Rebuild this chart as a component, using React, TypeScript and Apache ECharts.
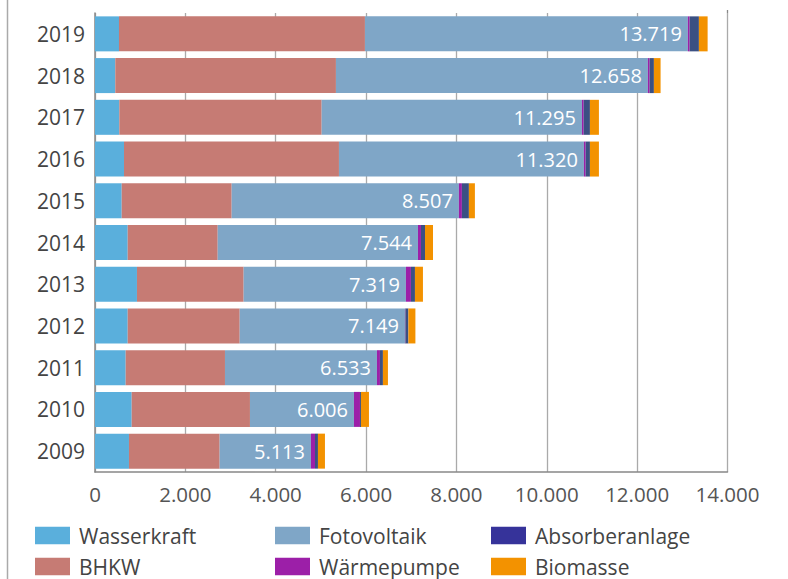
import React, { useEffect, useRef } from "react";
import * as echarts from "echarts";

const years = ["2009", "2010", "2011", "2012", "2013", "2014", "2015", "2016", "2017", "2018", "2019"];
const wasserkraft = [752, 812, 679, 724, 929, 724, 591, 642, 538, 449, 531];
const bhkw = [2007, 2618, 2198, 2479, 2361, 1992, 2434, 4758, 4479, 4884, 5444];
const fotovoltaik = [2021, 2302, 3364, 3658, 3592, 4433, 5030, 5422, 5761, 6905, 7148];
const waermepumpe = [89, 133, 66, 10, 111, 66, 66, 38, 38, 38, 38];
const absorberanlage = [66, 22, 66, 66, 89, 89, 155, 95, 139, 95, 206];
const biomasse = [155, 177, 111, 155, 177, 177, 133, 199, 199, 148, 193];
const totals = [5113, 6006, 6533, 7149, 7319, 7544, 8507, 11320, 11295, 12658, 13719];
const xTicks = [0, 2000, 4000, 6000, 8000, 10000, 12000, 14000];

const fmt = (v: number) => String(Math.round(v)).replace(/\B(?=(\d{3})+(?!\d))/g, ".");

const FONT = "Open Sans";

export default function App() {
  const ref = useRef<HTMLDivElement>(null);
  useEffect(() => {
    if (!ref.current) return;
    const chart = echarts.init(ref.current, undefined, { renderer: "svg" });
    const barBase = { type: "bar" as const, stack: "total", barWidth: 35 };
    const legendItem = (name: string, left: number, top: number, color?: string) => ({
      left,
      top,
      padding: 0,
      itemWidth: 35,
      itemHeight: 17.5,
      icon: "rect",
      selectedMode: false,
      textStyle: { fontFamily: FONT, fontSize: 21, color: "#444", lineHeight: 18, padding: [0, 0, 0, 4] },
      data: [color ? { name, itemStyle: { color } } : { name }],
    });
    chart.setOption({
      animation: false,
      backgroundColor: "#fff",
      grid: { left: 95, right: 60.5, top: 13, height: 459, containLabel: false },
      xAxis: {
        type: "value",
        min: xTicks[0],
        max: xTicks[xTicks.length - 1],
        interval: 2000,
        axisLine: { show: true, lineStyle: { color: "#888", width: 1.5 } },
        axisTick: { show: false },
        splitLine: { show: true, lineStyle: { color: "#aaa", width: 1.3 } },
        axisLabel: {
          fontFamily: FONT,
          fontSize: 20.5,
          color: "#555",
          margin: 11,
          formatter: (v: number) => fmt(v),
        },
      },
      yAxis: {
        type: "category",
        data: years,
        axisLine: { show: true, lineStyle: { color: "#888", width: 1.5 } },
        axisTick: { show: false },
        axisLabel: { fontFamily: FONT, fontSize: 21, color: "#444", margin: 10 },
      },
      graphic: [
        {
          type: "line",
          shape: { x1: 7.5, y1: 0, x2: 7.5, y2: 579 },
          style: { stroke: "#aaa", lineWidth: 1.5 },
        },
        {
          type: "line",
          shape: { x1: 727.5, y1: 10, x2: 727.5, y2: 13 },
          style: { stroke: "#888", lineWidth: 1.3 },
        },
      ],
      legend: [
        legendItem("Wasserkraft", 35, 525),
        legendItem("BHKW", 35, 556),
        legendItem("Fotovoltaik", 275, 525),
        legendItem("Wärmepumpe", 275, 556),
        legendItem("Absorberanlage", 491, 525, "#36339a"),
        legendItem("Biomasse", 491, 556),
      ],
      series: [
        { ...barBase, name: "Wasserkraft", data: wasserkraft, itemStyle: { color: "#5aafdc" } },
        { ...barBase, name: "BHKW", data: bhkw, itemStyle: { color: "#c67b74" } },
        {
          ...barBase,
          name: "Fotovoltaik",
          data: fotovoltaik,
          itemStyle: { color: "#7fa6c7" },
          label: {
            show: true,
            position: "insideRight",
            distance: 6,
            color: "#fff",
            fontFamily: FONT,
            fontSize: 20,
            formatter: (p: any) => fmt(totals[p.dataIndex]),
          },
        },
        { ...barBase, name: "Wärmepumpe", data: waermepumpe, itemStyle: { color: "#9c1fa8" } },
        { ...barBase, name: "Absorberanlage", data: absorberanlage, itemStyle: { color: "#3b5083" } },
        { ...barBase, name: "Biomasse", data: biomasse, itemStyle: { color: "#f39200" } },
      ],
    });
    return () => chart.dispose();
  }, []);
  return (
    <div
      ref={ref}
      style={{ position: "absolute", left: 0, top: 0, width: 788, height: 579, background: "#fff" }}
    />
  );
}
